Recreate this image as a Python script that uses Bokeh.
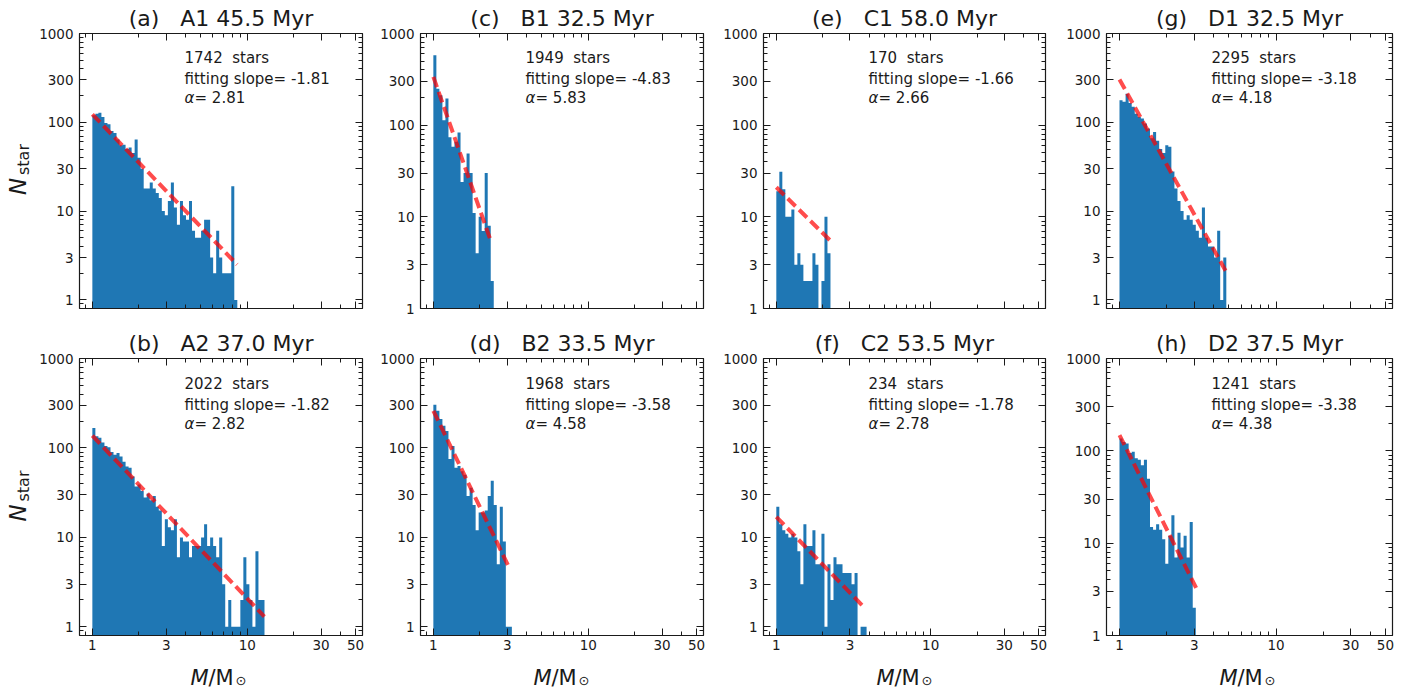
import numpy as np
from bokeh.plotting import figure
from bokeh.models import (LogAxis, FixedTicker, PrintfTickFormatter,
                          CustomJSTickFormatter, Label, Range1d)
from bokeh.layouts import row, column
from bokeh.embed import file_html
from bokeh.resources import INLINE

# ---------------- data ----------------
letters = ["a", "b", "c", "d", "e", "f", "g", "h"]
names = ["A1", "A2", "B1", "B2", "C1", "C2", "D1", "D2"]
ages = ["45.5", "37.0", "32.5", "33.5", "58.0", "53.5", "32.5", "37.5"]
n_stars = [1742, 2022, 1949, 1968, 170, 234, 2295, 1241]
slopes = [-1.81, -1.82, -4.83, -3.58, -1.66, -1.78, -3.18, -3.38]
alphas = [2.81, 2.82, 5.83, 4.58, 2.66, 2.78, 4.18, 4.38]

# fitted line: value at M=1 and mass where the drawn line ends
fit_amp = [123, 137, 337, 260, 21, 17, 304, 148]
fit_end = [8.6, 12.9, 2.36, 3.07, 2.24, 3.76, 4.76, 3.1]

# histogram counts per log-mass bin (bins start at 1 Msun)
counts_A1 = [120, 125, 128, 115, 98, 95, 80, 76, 64, 55, 56, 50, 52, 45, 64, 40,
             30, 18, 18, 21, 18, 16, 14, 10, 9, 13, 21, 11, 7, 13, 9, 8, 13, 6,
             5, 5, 6, 8, 8, 3, 2, 6, 3, 2, 2, 2, 19, 1]
counts_A2 = [167, 135, 130, 115, 105, 102, 90, 84, 88, 80,
             70, 62, 60, 48, 37, 39, 33, 28, 31, 26,
             29, 22, 20, 8, 16, 13, 12, 16, 6, 10,
             9, 9, 6, 8, 8, 8, 10, 14, 8, 10,
             8, 6, 10, 3, 1, 2, 1, 1, 1, 2,
             6, 3, 2, 1, 7, 2, 2]
counts_B1 = [580, 250, 212, 113, 195, 74, 58, 66, 83, 24, 30, 49, 30, 11, 4, 10,
             7, 30, 8, 2]
counts_B2 = [304, 260, 210, 177, 155, 75, 105, 60, 63, 55, 50, 29, 36, 23, 12,
             19, 19, 20, 29, 43, 23, 5, 22, 9, 1, 1]
counts_C1 = [19, 31, 20, 10, 10, 12, 3, 4, 3, 2, 2, 2, 4, 3, 0, 2, 10, 4]
counts_C2 = [22, 14, 12, 11, 10, 11, 10, 7, 3, 14, 8, 8, 12, 5, 5, 11, 1, 5, 2,
             6, 5, 5, 4, 4, 4, 3, 4, 0, 1, 1]
counts_D1 = [177, 170, 210, 165, 150, 125, 115, 110, 97, 85, 66, 78, 62, 50, 45,
             55, 53, 28, 18, 13, 10, 8, 9, 8, 7, 6, 5, 11, 5, 4, 4, 3, 6, 1, 3]
counts_D2 = [136, 125, 120, 95, 98, 83, 80, 70, 80, 50, 15, 14, 16, 14, 11, 6,
             12, 20, 7, 13, 9, 12, 7, 17, 2]
all_counts = [counts_A1, counts_A2, counts_B1, counts_B2,
              counts_C1, counts_C2, counts_D1, counts_D2]

x_major = [1, 3, 10, 30, 50]
x_minor = [0.9, 2, 4, 5, 6, 7, 8, 9, 20, 40]
y_major = [1, 3, 10, 30, 100, 300, 1000]
y_minor = [0.9, 2, 4, 5, 6, 7, 8, 9, 20, 40, 50, 60, 70, 80, 90,
           200, 400, 500, 600, 700, 800, 900]
y_low = [0.8, 0.8, 1.0, 0.8, 1.0, 0.8, 0.8, 1.0]

# ---------------- style / layout ----------------
BIN_DEX = 0.0195
X_RANGE = (0.826, 55.5)
FONT = "DejaVu Sans"
INK = "#1a1a1a"
BAR = "#1f77b4"
NB = "\u00a0"

W, H = 1422, 688
STRIP_L = 36                 # width of the left strip holding N_star
COL_L = [41, 55, 57, 58]
COL_FW = [285, 283, 282, 286]
COL_R = [3, 3, 3, 30]
ROW_T = [32, 40]
ROW_FH = [276, 277]
ROW_B = [10, 21]
STRIP_B = H - sum(ROW_T) - sum(ROW_FH) - sum(ROW_B)   # bottom strip height


def style_axis(ax, major, minor, labels):
    ax.ticker = FixedTicker(ticks=major, minor_ticks=minor)
    ax.major_tick_in = 7
    ax.major_tick_out = 0
    ax.minor_tick_in = 4
    ax.minor_tick_out = 0
    ax.axis_line_color = INK
    ax.major_tick_line_color = INK
    ax.minor_tick_line_color = INK
    ax.axis_line_width = 1.2
    ax.axis_label = None
    if labels:
        ax.formatter = PrintfTickFormatter(format="%d")
        ax.major_label_text_font_size = "13.5px"
        ax.major_label_text_font = FONT
        ax.major_label_text_color = INK
    else:
        ax.formatter = CustomJSTickFormatter(code="return ''")
        ax.major_label_text_font_size = "0px"
        ax.major_label_standoff = 0


def add_label(p, x, y, text, size, style="normal", align="left", angle=0.0,
              units="screen", baseline="alphabetic"):
    p.add_layout(Label(x=x, y=y, x_units=units, y_units=units, text=text,
                       text_font=FONT, text_font_size=size,
                       text_font_style=style, text_color=INK,
                       text_align=align, text_baseline=baseline,
                       angle=angle))


def blank(width, height):
    b = figure(width=width, height=height, x_range=Range1d(0, width),
               y_range=Range1d(0, height), output_backend="svg",
               toolbar_location=None, min_border=0,
               x_axis_location=None, y_axis_location=None)
    b.outline_line_color = None
    b.xgrid.visible = False
    b.ygrid.visible = False
    b.background_fill_color = "white"
    b.border_fill_color = "white"
    return b


def make_panel(i, c, r):
    fw, fh = COL_FW[c], ROW_FH[r]
    p = figure(width=COL_L[c] + fw + COL_R[c], height=ROW_T[r] + fh + ROW_B[r],
               x_axis_type="log", y_axis_type="log",
               x_range=Range1d(*X_RANGE), y_range=Range1d(y_low[i], 1000),
               output_backend="svg", toolbar_location=None,
               min_border_left=COL_L[c], min_border_right=COL_R[c],
               min_border_top=ROW_T[r], min_border_bottom=ROW_B[r])
    p.xgrid.visible = False
    p.ygrid.visible = False
    p.outline_line_color = INK
    p.background_fill_color = "white"
    p.border_fill_color = "white"

    # histogram drawn as one step-shaped filled patch
    counts = np.array(all_counts[i], dtype=float)
    edges = 10 ** (BIN_DEX * np.arange(len(counts) + 1))
    tops = np.where(counts > 0, counts, 0.1)
    xs = np.concatenate([[edges[0]], np.repeat(edges, 2)[1:-1], [edges[-1]]])
    ys = np.concatenate([[0.1], np.repeat(tops, 2), [0.1]])
    p.patch(xs, ys, fill_color=BAR, line_color=None)

    xe = [1.0, fit_end[i]]
    ye = [fit_amp[i], fit_amp[i] * fit_end[i] ** slopes[i]]
    p.line(xe, ye, line_color="red", line_alpha=0.7, line_width=4,
           line_dash="11 5")

    p.add_layout(LogAxis(), "right")
    p.add_layout(LogAxis(), "above")
    style_axis(p.below[0], x_major, x_minor, labels=(r == 1))
    style_axis(p.above[0], x_major, x_minor, labels=False)
    style_axis(p.left[0], y_major, y_minor, labels=True)
    style_axis(p.right[0], y_major, y_minor, labels=False)
    p.left[0].major_label_standoff = 6
    p.below[0].major_label_standoff = 4

    p.title.text = f"({letters[i]}){NB}{NB}{NB}{names[i]} {ages[i]} Myr"
    p.title.align = "center"
    p.title.text_font = FONT
    p.title.text_font_size = "22px"
    p.title.text_font_style = "normal"
    p.title.text_color = INK
    p.title.standoff = 6

    add_label(p, 105, fh - 25, f"{n_stars[i]}{NB} stars", "15px")
    add_label(p, 105, fh - 46, f"fitting slope= {slopes[i]:.2f}", "15px")
    add_label(p, 105, fh - 65, "\u03b1", "15px", style="italic")
    add_label(p, 115, fh - 65, f"= {alphas[i]:.2f}", "15px")
    return p


top = [make_panel(i, c, 0) for c, i in enumerate([0, 2, 4, 6])]
bottom = [make_panel(i, c, 1) for c, i in enumerate([1, 3, 5, 7])]

# left strip: y-axis labels (N_star), coordinates are pixels from the bottom
left = blank(STRIP_L, H)
row_centres = [H - (ROW_T[0] + ROW_FH[0] / 2),
               H - (ROW_T[0] + ROW_FH[0] + ROW_B[0] + ROW_T[1] + ROW_FH[1] / 2)]
for yc in row_centres:
    add_label(left, 17, yc - 16, "N", "23px", style="italic", align="center",
              angle=np.pi / 2, units="data", baseline="middle")
    add_label(left, 22.5, yc + 11, "star", "16px", align="center",
              angle=np.pi / 2, units="data", baseline="middle")

# bottom strip: x-axis labels (M/M_sun)
bot = blank(W - STRIP_L, STRIP_B)
x0 = 0
for c in range(4):
    fl = x0 + COL_L[c]
    add_label(bot, fl + 113, 11, "M", "21px", style="italic", units="data")
    add_label(bot, fl + 131, 11, "/M", "21px", units="data")
    add_label(bot, fl + 158, 8, "\u2299", "13px", units="data")
    x0 += COL_L[c] + COL_FW[c] + COL_R[c]

layout = row(left,
             column(row(*top, spacing=0), row(*bottom, spacing=0), bot,
                    spacing=0),
             spacing=0)

open("out.html", "w").write(file_html(layout, INLINE))
